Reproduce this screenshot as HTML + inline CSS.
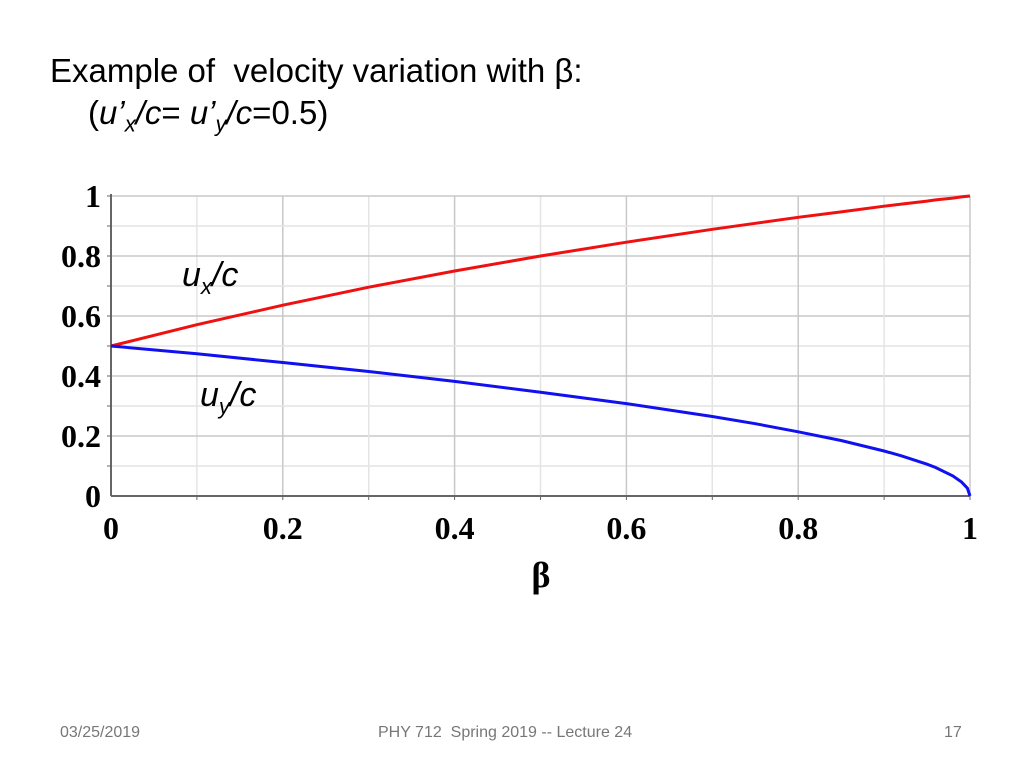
<!DOCTYPE html>
<html><head><meta charset="utf-8"><style>
body{margin:0;width:1024px;height:768px;background:#fff;overflow:hidden;font-family:"Liberation Sans",sans-serif;position:relative}
.t{position:absolute;color:#000;white-space:nowrap}
</style></head><body>
<div class="t" style="left:50px;top:52px;font-size:33px">Example of&nbsp; velocity variation with β:</div>
<div class="t" style="left:88px;top:94px;font-size:33px">(<i>u’<sub style="font-size:22px">x</sub>/c</i>= <i>u’<sub style="font-size:22px">y</sub>/c</i>=0.5)</div>
<svg id="chart" width="1024" height="768" style="position:absolute;left:0;top:0"></svg>
<div class="t" style="left:60px;top:724px;font-size:16px;color:#777">03/25/2019</div>
<div class="t" style="left:378px;top:724px;font-size:16px;color:#777">PHY 712&nbsp; Spring 2019 -- Lecture 24</div>
<div class="t" style="left:944px;top:724px;font-size:16px;color:#777">17</div>
<script>
const betas=[0,0.1,0.2,0.3,0.4,0.5,0.6,0.7,0.75,0.8,0.85,0.9,0.92,0.95,0.96,0.98,0.99,0.997,1];
const uxVals=[0.5,0.571,0.636,0.696,0.75,0.8,0.846,0.889,0.909,0.929,0.947,0.966,0.973,0.983,0.987,0.993,0.997,0.999,1];
const uyVals=[0.5,0.474,0.445,0.415,0.382,0.346,0.308,0.265,0.241,0.214,0.185,0.150,0.134,0.106,0.095,0.067,0.047,0.026,0];
const xTicks=["0","0.2","0.4","0.6","0.8","1"];
const yTicks=["0","0.2","0.4","0.6","0.8","1"];
const NS="http://www.w3.org/2000/svg";
const svg=document.getElementById('chart');
const X0=111,X1=970,Y0=496,Y1=196;
const sx=v=>X0+v*(X1-X0), sy=v=>Y0-v*(Y0-Y1);
function mk(tag,at){const e=document.createElementNS(NS,tag);for(const k in at)e.setAttribute(k,at[k]);svg.appendChild(e);return e;}
for(let i=1;i<=10;i++){const v=i/10;const c=i%2?'#e4e4e4':'#c8c8c8';
 let g=mk('line',{x1:sx(v),x2:sx(v),y1:Y1,y2:Y0,stroke:c,'stroke-width':1.5});
 
 
 g=mk('line',{x1:X0,x2:X1,y1:sy(v),y2:sy(v),stroke:c,'stroke-width':1.5});
 
 
 const tk=mk('line',{x1:X0-4,x2:X0,y1:sy(v),y2:sy(v),stroke:'#666'});
 
 
 const tx=mk('line',{x1:sx(v),x2:sx(v),y1:Y0,y2:Y0+4,stroke:'#666'});
 
 }
let a=mk('line',{x1:X0,x2:X0,y1:Y1-2,y2:Y0,stroke:'#666','stroke-width':2});


a=mk('line',{x1:X0,x2:X1,y1:Y0,y2:Y0,stroke:'#666','stroke-width':2});


xTicks.forEach((s,i)=>{const t=mk('text',{x:sx(i*0.2),y:539,'text-anchor':'middle','font-family':'Liberation Serif','font-weight':'bold','font-size':32});t.textContent=s;
 
 });
yTicks.forEach((s,i)=>{const t=mk('text',{x:101,y:sy(i*0.2)+11,'text-anchor':'end','font-family':'Liberation Serif','font-weight':'bold','font-size':32});t.textContent=s;
 
 });
let xt=mk('text',{x:541,y:587,'text-anchor':'middle','font-family':'Liberation Serif','font-weight':'bold','font-size':36});xt.textContent='β';


function path(vals){return vals.map((v,i)=>(i?'L':'M')+sx(betas[i]).toFixed(1)+','+sy(v).toFixed(1)).join('');}
let p=mk('path',{d:path(uxVals),fill:'none',stroke:'#f01010','stroke-width':3});


p=mk('path',{d:path(uyVals),fill:'none',stroke:'#1010f0','stroke-width':3});


</script>
<div class="t" style="left:182px;top:256px;font-size:34px"><i>u<sub style="font-size:22px">x</sub>/c</i></div>
<div class="t" style="left:200px;top:376px;font-size:34px"><i>u<sub style="font-size:22px">y</sub>/c</i></div>
</body></html>
